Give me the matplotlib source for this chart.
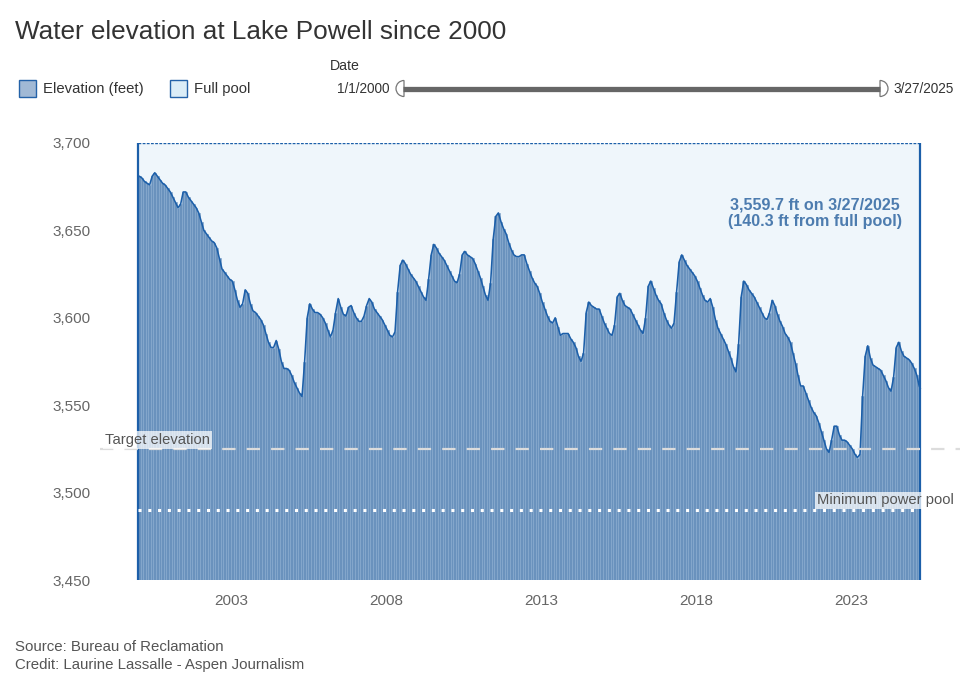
import matplotlib
matplotlib.use('Agg')
import matplotlib.pyplot as plt
import numpy as np
import pandas as pd
from matplotlib.patches import Rectangle, Wedge
from matplotlib.ticker import FuncFormatter

plt.rcParams['font.family'] = ['Liberation Sans', 'DejaVu Sans']

# ---------------- data (monthly elevation, feet) ----------------
elev_2000_2004 = [
    3681, 3680, 3678, 3677, 3676, 3681, 3683, 3681, 3679, 3677, 3676, 3674,
    3672, 3669, 3666, 3663, 3665, 3672, 3672, 3669, 3667, 3665, 3663, 3660,
    3655, 3650, 3648, 3646, 3644, 3643, 3640, 3634, 3628, 3626, 3624, 3622,
    3621, 3616, 3610, 3606, 3608, 3616, 3614, 3608, 3604, 3603, 3601, 3599,
    3596, 3591, 3586, 3583, 3583, 3587, 3582, 3575, 3571, 3571, 3570, 3567,
]
elev_2005_2009 = [
    3563, 3560, 3557, 3555, 3575, 3600, 3608, 3605, 3603, 3603, 3602, 3600,
    3597, 3593, 3589, 3593, 3603, 3611, 3606, 3602, 3601, 3606, 3607, 3603,
    3600, 3598, 3598, 3601, 3607, 3611, 3609, 3605, 3603, 3601, 3599, 3596,
    3593, 3590, 3589, 3592, 3615, 3630, 3633, 3631, 3628, 3625, 3623, 3621,
    3618, 3615, 3612, 3610, 3622, 3636, 3642, 3640, 3637, 3635, 3633, 3630,
]
elev_2010_2014 = [
    3627, 3624, 3621, 3620, 3625, 3636, 3638, 3636, 3635, 3634, 3631, 3627,
    3623, 3618, 3613, 3610, 3620, 3645, 3658, 3660, 3655, 3651, 3648, 3643,
    3639, 3636, 3635, 3635, 3636, 3636, 3631, 3627, 3623, 3620, 3618, 3614,
    3609, 3605, 3601, 3598, 3597, 3600, 3595, 3590, 3591, 3591, 3591, 3588,
    3586, 3583, 3578, 3575, 3580, 3603, 3609, 3607, 3606, 3605, 3605, 3601,
]
elev_2015_2019 = [
    3597, 3594, 3591, 3590, 3596, 3612, 3614, 3610, 3607, 3606, 3605, 3602,
    3599, 3596, 3593, 3591, 3600, 3618, 3621, 3617, 3613, 3610, 3608, 3603,
    3599, 3596, 3594, 3597, 3615, 3632, 3636, 3633, 3630, 3628, 3626, 3624,
    3621, 3617, 3613, 3610, 3609, 3611, 3606, 3599, 3594, 3591, 3588, 3585,
    3581, 3577, 3572, 3569, 3585, 3612, 3621, 3619, 3616, 3614, 3612, 3609,
]
elev_2020_2025 = [
    3606, 3603, 3600, 3599, 3603, 3610, 3607, 3602, 3598, 3595, 3591, 3589,
    3586, 3580, 3574, 3567, 3561, 3561, 3557, 3553, 3549, 3546, 3544, 3540,
    3535, 3530, 3525, 3523, 3530, 3538, 3538, 3533, 3530, 3530, 3529, 3527,
    3525, 3522, 3520, 3522, 3555, 3578, 3584, 3577, 3573, 3572, 3571, 3570,
    3567, 3564, 3560, 3558, 3566, 3583, 3586, 3581, 3578, 3577, 3576, 3574,
    3571, 3567, 3561,
]
last_value = 3559.7
last_date = "3/27/2025"
first_date = "1/1/2000"
full_pool = 3700
target_elevation = 3525
min_power_pool = 3490
x_ticks = [2003, 2008, 2013, 2018, 2023]
y_ticks = [3450, 3500, 3550, 3600, 3650, 3700]

elevation = np.array(elev_2000_2004 + elev_2005_2009 + elev_2010_2014 +
                     elev_2015_2019 + elev_2020_2025, dtype=float)
months = pd.date_range('2000-01-01', periods=len(elevation), freq='MS')
xm = np.asarray(months.year + (months.month - 1) / 12.0, dtype=float)
end_ts = pd.Timestamp('2025-03-27')
x_end = end_ts.year + (end_ts.dayofyear - 1) / 365.0
x_start = xm[0]

# ---------------- figure ----------------
W, H = 975, 697
fig = plt.figure(figsize=(W / 100, H / 100), dpi=100)
ax = fig.add_axes([100 / W, 1 - 580 / H, 860 / W, 437 / H])

ymin, ymax = 3450, 3700
px_per_year = 31.0
ax.set_xlim(x_start - 38 / px_per_year, x_start + 822 / px_per_year)
ax.set_ylim(ymin, ymax)

# full pool region
ax.axvspan(x_start, x_end, color='#eff6fb', zorder=0, lw=0)

# elevation columns
widths = np.diff(np.append(xm, x_end))
ax.bar(xm, elevation - ymin, bottom=ymin, width=widths, align='edge',
       color='#6a92bd', edgecolor='#86a9ce', linewidth=0.5, zorder=2)

# top line
line_x = np.append(xm + widths / 2, x_end)
line_y = np.append(elevation, last_value)
line_x = np.insert(line_x, 0, x_start)
line_y = np.insert(line_y, 0, elevation[0])
ax.plot(line_x, line_y, color='#1c5fa9', lw=1.15, zorder=4, solid_joinstyle='round')

# border of full pool region
ax.vlines([x_start, x_end], ymin, full_pool, color='#1c5fa9', lw=1.6, zorder=5)
ax.hlines(full_pool, x_start, x_end, color='#1c5fa9', lw=1.0,
          linestyles=(0, (2, 1)), zorder=5)

# reference lines
ax.axhline(target_elevation, color='#dcdcdc', lw=1.6, ls=(0, (6, 5)), zorder=6)
ax.hlines(min_power_pool, x_start, x_end, color='white', lw=2.2,
          linestyles=(0, (1, 2.2)), zorder=6)

ax.text(x_start - 33 / px_per_year, target_elevation + 5.0, 'Target elevation',
        fontsize=10.6, color='#555555', va='center', ha='left', zorder=7,
        bbox=dict(boxstyle='square,pad=0.12', fc='white', ec='none', alpha=0.72))
ax.text(x_start + 679 / px_per_year, min_power_pool + 5.5, 'Minimum power pool',
        fontsize=10.6, color='#555555', va='center', ha='left', zorder=7,
        bbox=dict(boxstyle='square,pad=0.12', fc='white', ec='none', alpha=0.72))

ax.text(x_start + 677 / px_per_year, 3660, f"{last_value:,.1f} ft on {last_date}\n"
        f"({full_pool - last_value:.1f} ft from full pool)",
        fontsize=11.6, fontweight='bold', color='#4d7caf', ha='center', va='center',
        linespacing=1.15, zorder=7)

# axes style
for s in ax.spines.values():
    s.set_visible(False)
ax.set_facecolor('white')
ax.set_yticks(y_ticks)
ax.yaxis.set_major_formatter(FuncFormatter(lambda v, p: f"{int(v):,}"))
ax.set_xticks(x_ticks)
ax.set_xticklabels([str(t) for t in x_ticks])
ax.tick_params(axis='both', length=0, labelsize=11, labelcolor='#666666')
ax.tick_params(axis='y', pad=7)
ax.tick_params(axis='x', pad=10)

# ---------------- overlay: title, legend, slider, credits ----------------
ov = fig.add_axes([0, 0, 1, 1], zorder=10)
ov.set_xlim(0, W)
ov.set_ylim(H, 0)
ov.axis('off')
ov.patch.set_alpha(0)

ov.text(15, 32, 'Water elevation at Lake Powell since 2000', fontsize=18.8,
        color='#333333', va='center', ha='left')

ov.add_patch(Rectangle((19, 80), 17, 17, fc='#a1b9d5', ec='#2462a8', lw=1.0))
ov.text(43, 88.5, 'Elevation (feet)', fontsize=10.7, color='#333333', va='center')
ov.add_patch(Rectangle((170, 80), 17, 17, fc='#dbedf7', ec='#2462a8', lw=1.0))
ov.text(194, 88.5, 'Full pool', fontsize=10.7, color='#333333', va='center')

ov.text(330, 66, 'Date', fontsize=10.2, color='#333333', va='center', ha='left')
ov.text(389, 89, first_date, fontsize=9.8, color='#333333', va='center', ha='right')
ov.text(893, 89, last_date, fontsize=9.8, color='#333333', va='center', ha='left')
ov.plot([403, 880], [88.5, 88.5], color='#666666', lw=3.8, solid_capstyle='butt')
ov.add_patch(Wedge((404, 88.5), 8, 90, 270, fc='white', ec='#777777', lw=0.9))
ov.add_patch(Wedge((880, 88.5), 8, 270, 90, fc='white', ec='#777777', lw=0.9))

ov.text(15, 647, 'Source: Bureau of Reclamation', fontsize=10.8, color='#555555', va='center')
ov.text(15, 665, 'Credit: Laurine Lassalle - Aspen Journalism', fontsize=10.8,
        color='#555555', va='center')

fig.savefig('out.png', dpi=100, facecolor='white')
